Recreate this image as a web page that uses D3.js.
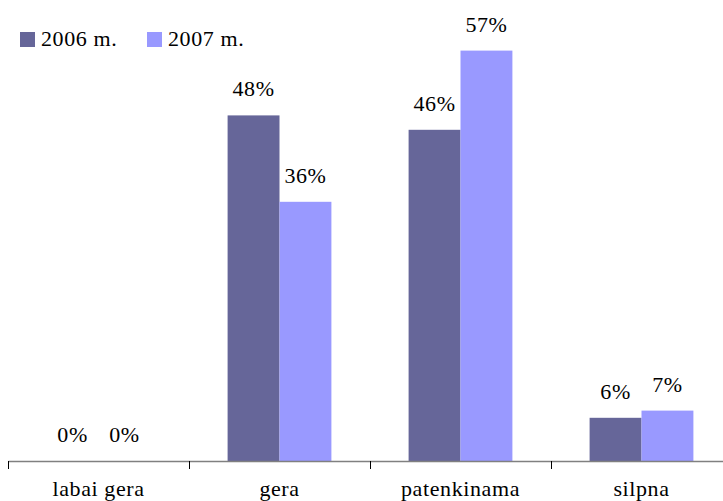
<!DOCTYPE html>
<html>
<head>
<meta charset="utf-8">
<script src="https://cdn.jsdelivr.net/npm/d3@7"></script>
<style>
  html, body { margin: 0; padding: 0; background: #fff; }
  svg { display: block; }
</style>
</head>
<body>
<svg id="chart" width="723" height="501"></svg>
<script>
// Assessment categories and yearly shares (percent)
const categories = ["labai gera", "gera", "patenkinama", "silpna"];
const seriesNames = ["2006 m.", "2007 m."];
const values2006 = [0, 48, 46, 6];
const values2007 = [0, 36, 57, 7];
const seriesColors = ["#666699", "#9999FF"];

const serif = '"Liberation Serif", "Times New Roman", serif';
const fontSize = 22;
const spacing = "0.6px";

const svg = d3.select("#chart")
  .attr("font-family", serif)
  .style("font-family", serif);

const baseY = 461;

const x = d3.scaleBand().domain(categories).range([8, 732]).paddingInner(0).paddingOuter(0);
const inner = d3.scaleBand().domain(seriesNames).range([0, x.bandwidth()]).paddingInner(0).paddingOuter(0.7436);
const y = d3.scaleLinear().domain([0, 60]).range([baseY, baseY - 432]);

const series = [values2006, values2007];

function styleText(sel) {
  return sel
    .attr("font-family", serif)
    .style("font-family", serif)
    .style("font-size", fontSize + "px")
    .style("letter-spacing", spacing)
    .attr("fill", "#000");
}

// Bars
series.forEach((vals, si) => {
  svg.append("g").selectAll("rect")
    .data(categories)
    .join("rect")
    .attr("x", c => x(c) + inner(seriesNames[si]))
    .attr("y", (c, i) => y(vals[i]))
    .attr("width", inner.bandwidth())
    .attr("height", (c, i) => baseY - y(vals[i]))
    .attr("fill", seriesColors[si]);
});

// Value labels above each bar
series.forEach((vals, si) => {
  svg.append("g").selectAll("text")
    .data(categories)
    .join("text")
    .attr("x", c => x(c) + inner(seriesNames[si]) + inner.bandwidth() / 2)
    .attr("y", (c, i) => y(vals[i]) - 19)
    .attr("text-anchor", "middle")
    .call(styleText)
    .text((c, i) => vals[i] + "%");
});

// Category axis
const axis = d3.axisBottom(x).tickSize(0).tickPadding(0);
const gAxis = svg.append("g").attr("transform", `translate(0,${baseY})`).call(axis);
gAxis.attr("font-family", serif);
gAxis.select(".domain").attr("stroke", "#808080").attr("stroke-width", 1.5);
gAxis.selectAll(".tick text")
  .attr("dy", null)
  .attr("y", 35)
  .call(styleText);

// Boundary ticks between categories
const boundaries = categories.map(c => x(c)).concat([x.range()[1]]);
svg.append("g").selectAll("line")
  .data(boundaries)
  .join("line")
  .attr("x1", d => d + 0.5).attr("x2", d => d + 0.5)
  .attr("y1", baseY).attr("y2", baseY + 8)
  .attr("stroke", "#000").attr("stroke-width", 1);

// Legend
const legend = svg.append("g").attr("transform", "translate(20,32)");
const legendX = [0, 127];
seriesNames.forEach((name, i) => {
  const g = legend.append("g").attr("transform", `translate(${legendX[i]},0)`);
  g.append("rect").attr("width", 15).attr("height", 15).attr("fill", seriesColors[i]);
  g.append("text").attr("x", 21).attr("y", 14).call(styleText).text(name);
});
</script>
</body>
</html>
